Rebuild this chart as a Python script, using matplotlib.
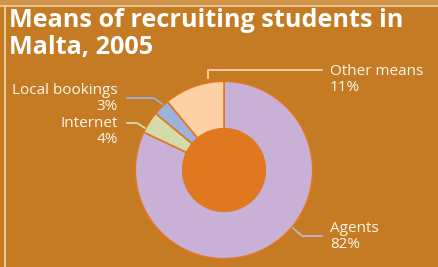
import matplotlib.pyplot as plt
from matplotlib.lines import Line2D

# Data
labels = ['Agents', 'Internet', 'Local bookings', 'Other means']
shares = [82, 4, 3, 11]
colors = ['#c8b0d6', '#d3dbab', '#9cb1dc', '#fdd1a5']

bg = '#c47b23'
edge = '#e07820'
txt = '#fdf6ec'

W, H = 438, 267
fig = plt.figure(figsize=(W / 100, H / 100), dpi=100)
fig.patch.set_facecolor(bg)

# top band and frame lines
fig.add_artist(plt.Rectangle((0, 1 - 5 / H), 1, 5 / H, transform=fig.transFigure,
                             color='#d0954a', lw=0))
fig.add_artist(Line2D([0, 1], [1 - 5.5 / H] * 2, transform=fig.transFigure,
                      color='#f2dcb0', lw=1.1))
fig.add_artist(Line2D([4.5 / W] * 2, [0, 1 - 5.5 / H], transform=fig.transFigure,
                      color='#f2dcb0', lw=1.1))

# donut
cx, cy, r = 224, 170, 90.5
ax = fig.add_axes([(cx - r) / W, (H - cy - r) / H, 2 * r / W, 2 * r / H])
ax.pie(shares, colors=colors, startangle=90, counterclock=False,
       wedgeprops=dict(width=1 - 42 / r, edgecolor=edge, linewidth=1.2))
ax.add_artist(plt.Circle((0, 0), 42 / r, color=edge, zorder=5))
ax.set_xlim(-1.02, 1.02)
ax.set_ylim(-1.02, 1.02)
ax.set_aspect('equal')
ax.axis('off')

# overlay in pixel coords for title, labels and leader lines
ov = fig.add_axes([0, 0, 1, 1], facecolor='none')
ov.set_xlim(0, W)
ov.set_ylim(H, 0)
ov.axis('off')

ov.text(9, 8, 'Means of recruiting students in\nMalta, 2005', color='white',
        fontsize=18.2, fontweight='bold', family='Open Sans', va='top', ha='left',
        linespacing=1.1)

lw = 1.3
fs = 11
ls = 1.08
# Other means
ov.plot([208, 208, 322], [78, 70, 70], color=colors[3], lw=lw)
ov.text(330, 64, f'{labels[3]}\n{shares[3]}%', color=txt, fontsize=fs,
        family='Open Sans', va='top', ha='left', linespacing=ls)
# Agents
ov.plot([293, 302, 322], [228, 236, 236], color=colors[0], lw=lw)
ov.text(330, 221, f'{labels[0]}\n{shares[0]}%', color=txt, fontsize=fs,
        family='Open Sans', va='top', ha='left', linespacing=ls)
# Local bookings
ov.plot([127, 154, 162], [98, 98, 104], color=colors[2], lw=lw)
ov.text(118, 83, f'{labels[2]}\n{shares[2]}%', color=txt, fontsize=fs,
        family='Open Sans', va='top', ha='right', linespacing=ls)
# Internet
ov.plot([127, 137, 145], [123, 123, 128], color=colors[1], lw=lw)
ov.text(118, 116, f'{labels[1]}\n{shares[1]}%', color=txt, fontsize=fs,
        family='Open Sans', va='top', ha='right', linespacing=ls)

fig.savefig('out.png', dpi=100, facecolor=bg)
